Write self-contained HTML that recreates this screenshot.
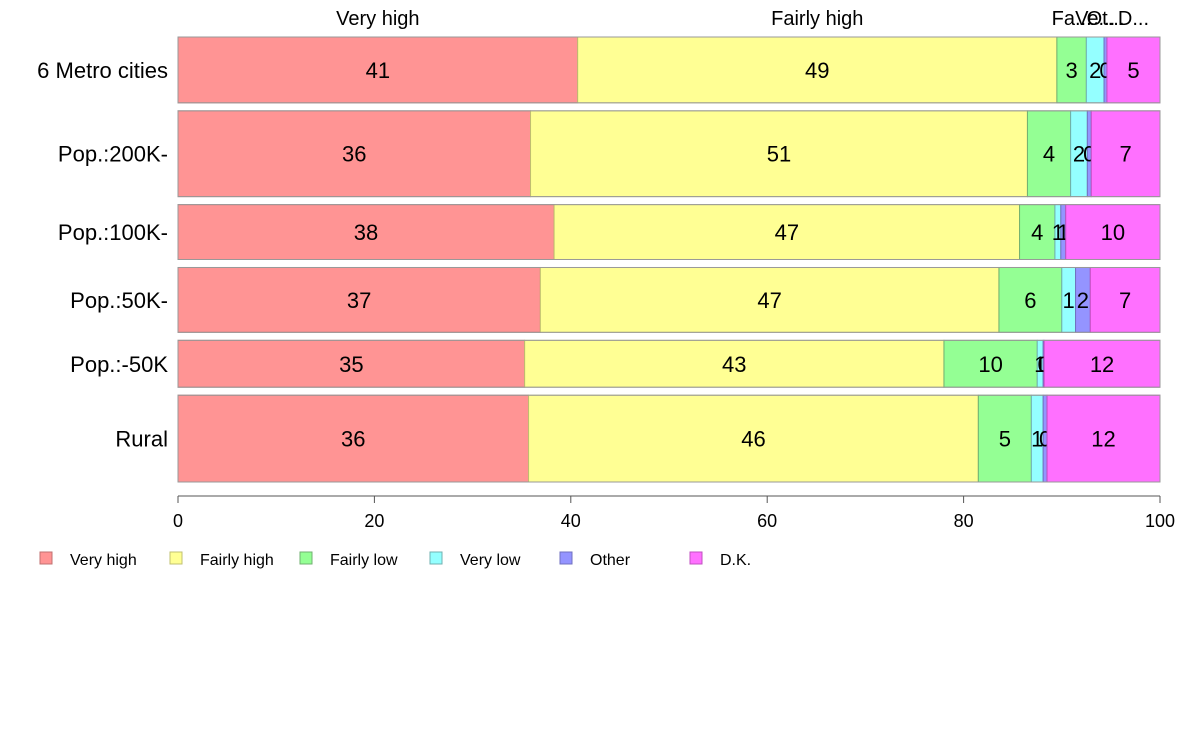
<!DOCTYPE html>
<html><head><meta charset="utf-8"><style>
body{margin:0;background:#fff;}
svg text{font-family:"Liberation Sans",Arial,sans-serif;}
</style></head><body>
<svg id="chart" width="1188" height="736" xmlns="http://www.w3.org/2000/svg"></svg>
<script>
const categories = ["6 Metro cities","Pop.:200K-","Pop.:100K-","Pop.:50K-","Pop.:-50K","Rural"];
const rowWeights = [66,86,55,65,47,87];
const seriesNames = ["Very high","Fairly high","Fairly low","Very low","Other","D.K."];
const topLabels = ["Very high","Fairly high","Fa...","Ve...","Ot...","D..."];
const veryHigh  = [40.7,35.9,38.3,36.9,35.3,35.7];
const fairlyHigh= [48.8,50.6,47.4,46.7,42.7,45.8];
const fairlyLow = [3.0,4.4,3.6,6.4,9.5,5.4];
const veryLow   = [1.8,1.7,0.6,1.4,0.6,1.2];
const other     = [0.3,0.4,0.5,1.5,0.1,0.4];
const dk        = [5.4,7.0,9.6,7.1,11.8,11.5];
const xTicks = [0,20,40,60,80,100];
const series=[veryHigh,fairlyHigh,fairlyLow,veryLow,other,dk];
const fills=["#FF9494","#FFFF94","#94FF94","#94FFFF","#9494FF","#FF70FF"];
const strokes=["#c07070","#c0c070","#70b070","#70b0b0","#7070c0","#c050c0"];
const svg=document.getElementById('chart');
const NS="http://www.w3.org/2000/svg";
function mk(t,a,p){const e=document.createElementNS(NS,t);for(const k in a)e.setAttribute(k,a[k]);(p||svg).appendChild(e);return e;}
const x0=178,x1=1160,yTop=37,yBot=482,gap=8;
const xs=v=>x0+(x1-x0)*v/100;
const totalW=rowWeights.reduce((a,b)=>a+b,0);
const hUnit=(yBot-yTop-gap*(categories.length-1))/totalW;
let y=yTop;
categories.forEach((c,i)=>{
  const h=rowWeights[i]*hUnit;
  const tot=series.reduce((s,a)=>s+a[i],0);
  let acc=0;
  const g=mk('g',{});
  
  
  series.forEach((s,j)=>{
    const v=s[i]/tot*100;
    const xa=xs(acc),xb=xs(acc+v);
    const r=mk('rect',{x:xa,y:y,width:Math.max(xb-xa,0),height:h,fill:fills[j],stroke:strokes[j],'stroke-width':1},g);
    
    
    const t=mk('text',{x:(xa+xb)/2,y:y+h/2+8,'text-anchor':'middle','font-size':22,fill:'#000'},g);
    t.textContent=Math.round(s[i]);
    
    
    if(i===0){
      const tl=mk('text',{x:(xa+xb)/2,y:25,'text-anchor':'middle','font-size':20,fill:'#000'});
      tl.textContent=topLabels[j];
      
      
    }
    acc+=v;
  });
  mk('rect',{x:x0,y:y,width:x1-x0,height:h,fill:'none',stroke:'#999','stroke-width':1},g);
  const cl=mk('text',{x:168,y:y+h/2+8,'text-anchor':'end','font-size':22,fill:'#000'});
  cl.textContent=c;
  
  
  y+=h+gap;
});
const ax=mk('line',{x1:x0,y1:496,x2:x1,y2:496,stroke:'#555','stroke-width':1});


xTicks.forEach(t=>{
  mk('line',{x1:xs(t),y1:496,x2:xs(t),y2:503,stroke:'#555'});
  const tx=mk('text',{x:xs(t),y:527,'text-anchor':'middle','font-size':18,fill:'#000'});
  tx.textContent=t;
  
  
});
seriesNames.forEach((n,j)=>{
  const lx=40+j*130;
  const g=mk('g',{});
  
  
  mk('rect',{x:lx,y:552,width:12,height:12,fill:fills[j],stroke:strokes[j]},g);
  const t=mk('text',{x:lx+30,y:565,'font-size':16,fill:'#000'},g);
  t.textContent=n;
});
</script>
</body></html>
